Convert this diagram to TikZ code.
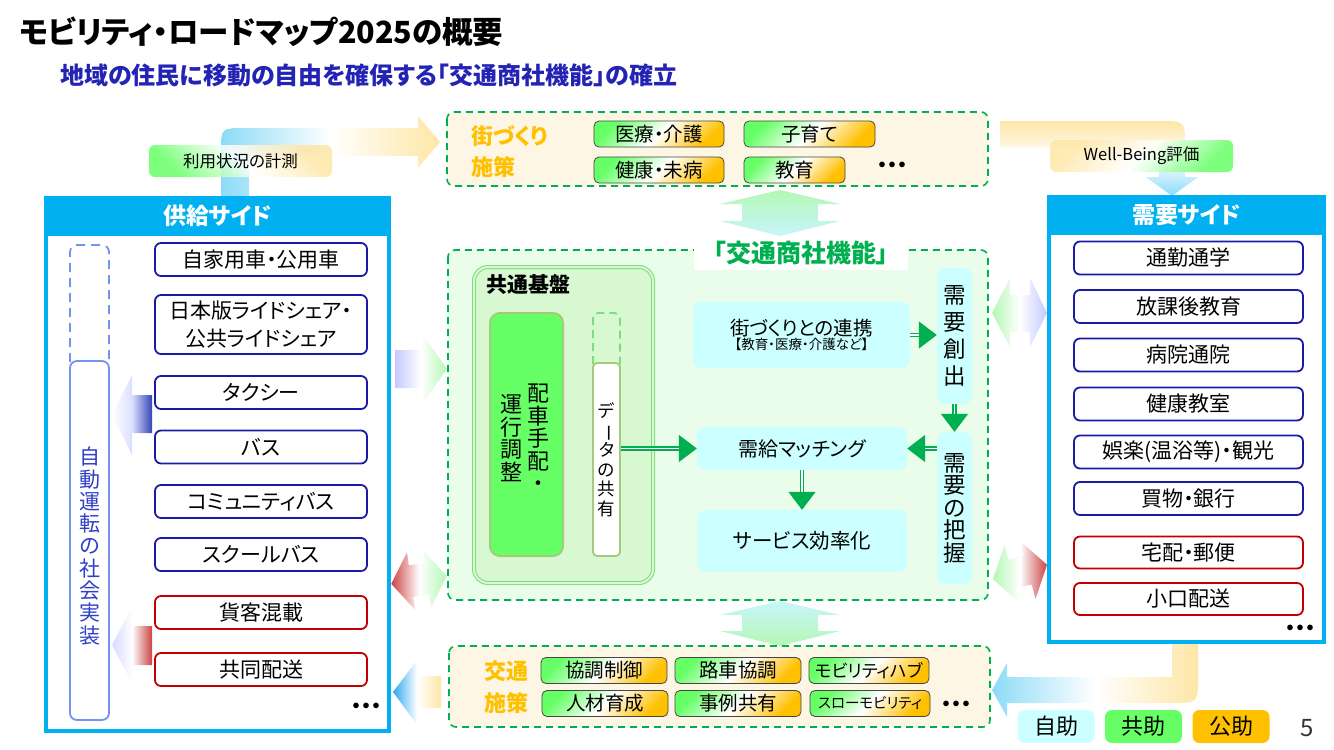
\documentclass[tikz,border=0pt]{standalone}
\usepackage{fontspec}
\usepackage{graphicx}
\setmainfont{Noto Sans CJK JP}[RawFeature=+palt]
\usetikzlibrary{positioning, arrows.meta, calc}

\definecolor{panelC}{HTML}{00B0F0}
\definecolor{itemB}{HTML}{1A1AA6}
\definecolor{itemR}{HTML}{C00000}
\definecolor{dashG}{HTML}{00B050}
\definecolor{mainG}{HTML}{00B050}
\definecolor{labO}{HTML}{FFC000}
\definecolor{subB}{HTML}{2424B4}
\definecolor{autoB}{HTML}{7393EE}
\definecolor{autoT}{HTML}{2E3FC8}
\definecolor{cenF}{HTML}{EAFCEA}
\definecolor{baseF}{HTML}{D8F8D2}
\definecolor{baseL}{HTML}{7EDC7E}
\definecolor{brightG}{HTML}{66FF66}
\definecolor{olivL}{HTML}{A2CC7A}
\definecolor{cyanF}{HTML}{CCFFFF}
\definecolor{creamF}{HTML}{FDF6E4}
\definecolor{arrB}{HTML}{8DDBF7}
\definecolor{arrO}{HTML}{FEE6A6}
\definecolor{arrG}{HTML}{B4F7B4}
\definecolor{arrL}{HTML}{C4CAFF}
\definecolor{arrR}{HTML}{CC4444}
\definecolor{arrD}{HTML}{3344B4}
\definecolor{arrS}{HTML}{2CAAF0}
\definecolor{arrC}{HTML}{C8F6FC}

\newcommand{\fsz}[2]{\fontsize{#1}{#2}\selectfont}

\begin{document}
\begin{tikzpicture}[x=1pt, y=-1pt,
  panel/.style={draw=panelC, line width=4pt},
  phead/.style={fill=panelC, text=white, inner sep=0pt, font=\fsz{23}{26}\bfseries},
  item/.style={draw=itemB, line width=1.8pt, rounded corners=6pt, fill=white,
               inner sep=0pt, align=center, font=\fsz{21}{25}},
  ritem/.style={item, draw=itemR},
  gdash/.style={draw=dashG, line width=1.6pt, dash pattern=on 7pt off 5pt, rounded corners=7pt},
  cbox/.style={fill=cyanF, rounded corners=8pt, inner sep=0pt, align=center},
  chip/.style={draw=gray!55!black, line width=0.8pt, rounded corners=5pt, inner sep=0pt,
               top color=brightG, bottom color=labO, middle color=white, shading angle=45,
               font=\fsz{19.5}{22}},
  olab/.style={text=labO, font=\fsz{22}{26}\bfseries, inner sep=0pt},
  flab/.style={rounded corners=6pt, inner sep=0pt, middle color=white, fill opacity=0.85,
               text opacity=1, minimum width=183pt, minimum height=32pt, font=\fsz{16.5}{19}},
  garr/.style={draw=mainG, line width=1.4pt, double=white, double distance=1.6pt,
               -{Triangle[length=18pt, width=27pt]}},
  legend/.style={rounded corners=7pt, inner sep=0pt, minimum width=77pt,
                 minimum height=33pt, font=\fsz{22}{24}},
  dots/.style={font=\fsz{20}{22}\bfseries, inner sep=0pt},
]
\useasboundingbox (0,0) rectangle (1334,750);

% title
\node[anchor=west, inner sep=0pt, font=\fsz{30.5}{34}\bfseries] (title) at (19,32)
  {モビリティ・ロードマップ2025の概要};
\node[anchor=west, inner sep=0pt, text=subB, font=\fsz{24}{28}\bfseries] (subtitle) at (60,75)
  {地域の住民に移動の自由を確保する「交通商社機能」の確立};

% big arrows
\shade[left color=arrB, right color=arrO, middle color=white]
  (221,197) -- (221,152) .. controls (221,128) .. (245,128) -- (418,128) -- (418,116)
  -- (440,142) -- (418,168) -- (418,156) -- (249,156) -- (249,197) -- cycle;
\shade[top color=arrO, bottom color=arrB, middle color=white]
  (1000,121) -- (1160,121) .. controls (1185,121) .. (1185,146) -- (1185,177)
  -- (1198,177) -- (1172,196) -- (1146,177) -- (1159,177) -- (1159,147) -- (1000,147) -- cycle;
\shade[left color=arrB, right color=arrO, middle color=white]
  (1172,643) -- (1172,677) -- (1007,677) -- (1007,663) -- (992,690) -- (1007,717)
  -- (1007,703) -- (1172,703) .. controls (1198,703) .. (1198,677) -- (1198,643) -- cycle;
\shade[left color=arrS, right color=arrO, middle color=white]
  (393,692) -- (418,659) -- (418,676) -- (441,676) -- (441,708) -- (418,708) -- (418,726) -- cycle;
\shade[left color=arrL, right color=arrG, middle color=white]
  (395,350) -- (423,350) -- (423,335) -- (447,369) -- (423,403) -- (423,388) -- (395,388) -- cycle;
\begin{scope}[rotate around={8:(419,580)}]
\shade[left color=arrR, right color=arrG, middle color=white]
  (391,580) -- (411,551) -- (411,564) -- (427,564) -- (427,551) -- (447,580)
  -- (427,609) -- (427,596) -- (411,596) -- (411,609) -- cycle;
\end{scope}
\shade[left color=arrG, right color=arrL, middle color=white]
  (992,313) -- (1010,278) -- (1010,295) -- (1030,295) -- (1030,278) -- (1047,313)
  -- (1030,347) -- (1030,332) -- (1010,332) -- (1010,347) -- cycle;
\begin{scope}[rotate around={15:(1020,572)}]
\shade[left color=arrG, right color=arrR, middle color=white]
  (992,572) -- (1012,542) -- (1012,557) -- (1028,557) -- (1028,542) -- (1048,572)
  -- (1028,602) -- (1028,587) -- (1012,587) -- (1012,602) -- cycle;
\end{scope}
\shade[top color=arrG, bottom color=arrC]
  (780,190) -- (840,204) -- (818,204) -- (818,221) -- (840,221) -- (780,236)
  -- (720,221) -- (742,221) -- (742,204) -- (720,204) -- cycle;
\shade[top color=arrC, bottom color=arrG]
  (780,601) -- (840,615) -- (818,615) -- (818,631) -- (840,631) -- (780,646)
  -- (720,631) -- (742,631) -- (742,615) -- (720,615) -- cycle;

% flow labels
\node[flab, top color=arrO, bottom color=brightG, middle color=white, shading angle=-45]
  (keisoku) at (240.5,161) {利用状況の計測};
\node[flab, top color=arrO, bottom color=brightG, middle color=white, shading angle=45]
  (wellb) at (1141.5,156) {Well-Being評価};

% machizukuri policies
\draw[gdash, fill=creamF] (447,112) rectangle (988,186);
\node[olab, anchor=west] (mzA) at (471,136) {街づくり};
\node[olab, anchor=west] (mzB) at (471,167) {施策};
\node[chip, minimum width=130pt, minimum height=26pt] (iryo) at (659,134) {医療・介護};
\node[chip, minimum width=131pt, minimum height=26pt] (kosodate) at (809.5,134) {子育て};
\node[chip, minimum width=130pt, minimum height=26pt] (kenko) at (659,170) {健康・未病};
\node[chip, minimum width=101pt, minimum height=26pt] (kyoiku) at (794.5,170) {教育};
\node[dots] (mzdots) at (892,167) {・・・};

% supply side
\draw[panel] (46,198) rectangle (389,731);
\node[phead, minimum width=347pt, minimum height=39pt] (supH) at (217.5,216) {供給サイド};
\draw[autoB, line width=1.8pt, dash pattern=on 9pt off 6pt, rounded corners=7pt]
  (70,362) -- (70,245) -- (109,245) -- (109,362);
\draw[autoB, line width=1.8pt, rounded corners=7pt] (70,361) rectangle (109,720);
\node[text=autoT, align=center, inner sep=0pt, font=\fsz{21}{22.3}] (jidou) at (89.5,546)
  {自\\動\\運\\転\\の\\社\\会\\実\\装};
\node[item, minimum width=212pt, minimum height=33pt] (jika) at (261,259.5) {自家用車・公用車};
\node[item, minimum width=212pt, minimum height=59pt, font=\fsz{21}{28}] (ride) at (261,324.5)
  {日本版ライドシェア・\\公共ライドシェア};
\node[item, minimum width=212pt, minimum height=33pt] (taxi) at (261,392.5) {タクシー};
\node[item, minimum width=212pt, minimum height=33pt] (bus) at (261,447) {バス};
\node[item, minimum width=212pt, minimum height=33pt] (cbus) at (261,501.5) {コミュニティバス};
\node[item, minimum width=212pt, minimum height=33pt] (sbus) at (261,554.5) {スクールバス};
\node[ritem, minimum width=212pt, minimum height=33pt] (kakyaku) at (261,612.5) {貨客混載};
\node[ritem, minimum width=212pt, minimum height=33pt] (kyodo) at (261,669.5) {共同配送};
\node[dots] (supdots) at (366,708) {・・・};
\shade[left color=white, right color=arrD, middle color=arrL!60]
  (112,415) -- (132,375) -- (132,395) -- (152,395) -- (152,433) -- (132,433) -- (132,455) -- cycle;
\shade[left color=arrL!70, right color=arrR, middle color=white]
  (112,645) -- (132,607) -- (132,626) -- (152,626) -- (152,665) -- (132,665) -- (132,683) -- cycle;

% central function
\draw[gdash, fill=cenF] (448,250) rectangle (988,600);
\node[fill=white, inner sep=0pt, minimum width=214pt, minimum height=34pt, text=mainG,
      font=\fsz{25}{28}\bfseries] (shosha) at (801,253) {「交通商社機能」};
\draw[draw=baseL, double=baseF, double distance=2pt, line width=1pt, fill=baseF,
      rounded corners=14pt] (474,267) rectangle (653,583);
\node[anchor=west, inner sep=0pt, font=\fsz{21}{24}\bfseries] (kiban) at (486,285) {共通基盤};
\node[draw=olivL, line width=2pt, fill=brightG, rounded corners=10pt, inner sep=0pt,
      minimum width=73pt, minimum height=243pt] (haisha) at (526.5,434.5) {};
\node[align=center, inner sep=0pt, font=\fsz{22}{22.5}] (haishaA) at (538,438) {配\\車\\手\\配\\・};
\node[align=center, inner sep=0pt, font=\fsz{22}{22.5}] (haishaB) at (511,438) {運\\行\\調\\整};
\draw[draw=baseL, line width=1.8pt, dash pattern=on 8pt off 5pt, rounded corners=5pt]
  (593,364) -- (593,313) -- (620,313) -- (620,364);
\node[draw=olivL, line width=1.8pt, fill=white, rounded corners=4pt, inner sep=0pt,
      align=center, minimum width=27pt, minimum height=193pt, font=\fsz{17.5}{19.5}]
  (data) at (606.5,459.5) {デ\\\rotatebox[origin=c]{-90}{ー}\\タ\\の\\共\\有};
\node[cbox, minimum width=217pt, minimum height=66pt] (renkei) at (801.5,335)
  {{\fsz{19.5}{23}街づくりとの連携}\\[0pt]{\fsz{13.5}{15}【教育・医療・介護など】}};
\node[cbox, minimum width=35pt, minimum height=136pt, font=\fsz{22.5}{27}] (sozo) at (954.5,336)
  {需\\要\\創\\出};
\node[cbox, minimum width=35pt, minimum height=152pt, font=\fsz{22.5}{22.5}] (haaku) at (954.5,508)
  {需\\要\\の\\把\\握};
\node[cbox, minimum width=210pt, minimum height=43pt, font=\fsz{20}{23}] (match) at (802,448.5)
  {需給マッチング};
\node[cbox, minimum width=210pt, minimum height=62pt, font=\fsz{20.5}{23}] (koritsu) at (802,541)
  {サービス効率化};
\draw[garr] (renkei) -- (renkei -| sozo.west);
\draw[garr] (sozo.south) -- (haaku.north);
\draw[garr] (haaku.west |- match) -- (match.east);
\draw[garr] (match.south) -- (koritsu.north);
\draw[garr] (data.east |- match) -- (match.west);

% traffic policies
\draw[gdash, fill=creamF] (449,646) rectangle (990,727);
\node[olab] (kotA) at (506,671) {交通};
\node[olab] (kotB) at (506,703) {施策};
\node[chip, minimum width=126pt, minimum height=26pt] (kyocho) at (604,670.5) {協調制御};
\node[chip, minimum width=126pt, minimum height=26pt] (rosha) at (738,670.5) {路車協調};
\node[chip, minimum width=120pt, minimum height=26pt, font=\fsz{17.5}{20}] (hub) at (869,670.5)
  {モビリティハブ};
\node[chip, minimum width=126pt, minimum height=26pt] (jinzai) at (605,703.5) {人材育成};
\node[chip, minimum width=126pt, minimum height=26pt] (jirei) at (738,703.5) {事例共有};
\node[chip, minimum width=120pt, minimum height=26pt, font=\fsz{14.5}{16}] (slow) at (870,703.5)
  {スローモビリティ};
\node[dots] (kotdots) at (956,706) {・・・};

% demand side
\draw[panel] (1049,197) rectangle (1324,642);
\node[phead, minimum width=279pt, minimum height=39pt] (demH) at (1186.5,215) {需要サイド};
\node[item, minimum width=229pt, minimum height=33pt] (tsukin) at (1188.5,258) {通勤通学};
\node[item, minimum width=229pt, minimum height=33pt] (hokago) at (1188.5,306.5) {放課後教育};
\node[item, minimum width=229pt, minimum height=33pt] (byoin) at (1188.5,355) {病院通院};
\node[item, minimum width=229pt, minimum height=33pt] (kstsu) at (1188.5,404) {健康教室};
\node[item, minimum width=229pt, minimum height=33pt] (goraku) at (1188.5,452) {娯楽(温浴等)・観光};
\node[item, minimum width=229pt, minimum height=33pt] (kaimono) at (1188.5,498.5) {買物・銀行};
\node[ritem, minimum width=229pt, minimum height=32pt] (takuhai) at (1188.5,552.5) {宅配・郵便};
\node[ritem, minimum width=229pt, minimum height=32pt] (koguchi) at (1188.5,599) {小口配送};
\node[dots] (demdots) at (1300,630) {・・・};

% legend
\node[legend, fill=cyanF] (jijo) at (1056,726.5) {自助};
\node[legend, fill=brightG] (kyojo) at (1143.5,726.5) {共助};
\node[legend, fill=labO] (kojo) at (1231,726.5) {公助};
\node[inner sep=0pt, text=black!80, font=\fsz{24}{26}] (page) at (1307,728) {5};
\end{tikzpicture}
\end{document}
